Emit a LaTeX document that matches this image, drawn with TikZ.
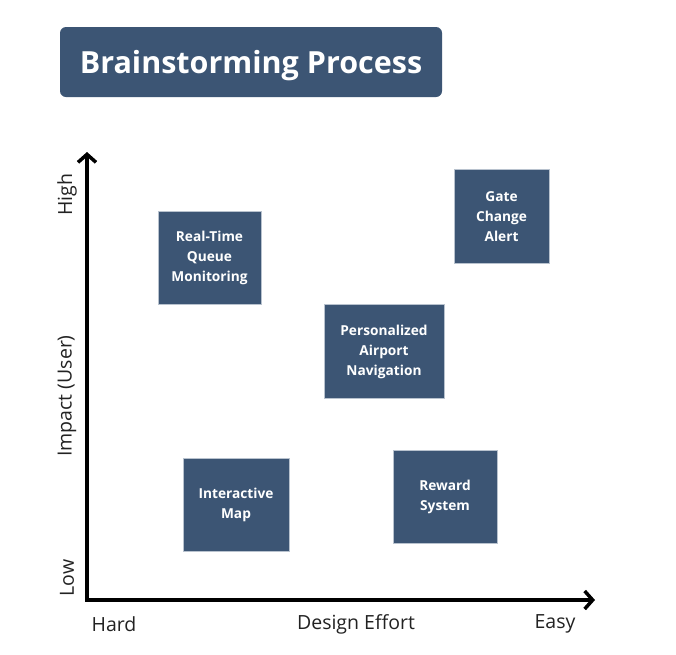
\documentclass[tikz,border=0pt]{standalone}
\usepackage{fontspec}
\setmainfont{Open Sans}
\usetikzlibrary{arrows.meta}
\definecolor{boxblue}{HTML}{3C5574}
\definecolor{boxborder}{HTML}{B8C2CE}
\definecolor{labelgray}{HTML}{222222}
\begin{document}
\begin{tikzpicture}[x=1pt,y=-1pt,
  idea/.style={fill=boxblue, draw=boxborder, line width=0.8pt, text=white,
    font=\bfseries\fontsize{13.7}{20}\selectfont, align=center, inner sep=0pt},
  axislbl/.style={font=\fontsize{19.5}{20}\selectfont, text=labelgray, inner sep=0pt},
  axisline/.style={line width=3.5pt, draw=black, {Straight Barb[length=8pt,width=18pt,line width=3.5pt]}-{Straight Barb[length=8pt,width=18pt,line width=3.5pt]}}]
\useasboundingbox (0,0) rectangle (676,654);
\fill[white] (0,0) rectangle (676,654);

% title
\node[fill=boxblue, rounded corners=6pt, minimum width=382pt, minimum height=70pt,
  text=white, font=\bfseries\fontsize{30.5}{34}\selectfont, inner sep=0pt,
  text height=22.6pt, text depth=0pt] (title) at (251,62) {Brainstorming Process};

% axes
\coordinate (ytop) at (87,152);
\coordinate (origin) at (87,600);
\coordinate (xend) at (595,600);
\draw[axisline] (ytop) -- (origin) -- (xend);

% axis labels
\node[axislbl, rotate=90] (high) at (67,195) {High};
\node[axislbl, rotate=90] (impact) at (67,396) {Impact (User)};
\node[axislbl, rotate=90] (low) at (67,578) {Low};
\node[axislbl] (hard) at (114,624) {Hard};
\node[axislbl] (effort) at (356,624) {Design Effort};
\node[axislbl] (easy) at (555,624) {Easy};

% idea boxes
\node[idea, minimum width=103pt, minimum height=93pt] (rtq) at (209.5,258) {Real-Time\\Queue\\Monitoring};
\node[idea, minimum width=120pt, minimum height=94pt] (pan) at (384,351.5) {Personalized\\Airport\\Navigation};
\node[idea, minimum width=95pt, minimum height=94pt] (gca) at (501.5,216.5) {Gate\\Change\\Alert};
\node[idea, minimum width=104pt, minimum height=93pt] (rws) at (445,497) {Reward\\System};
\node[idea, minimum width=106pt, minimum height=93pt] (imap) at (236,505) {Interactive\\Map};
\end{tikzpicture}
\end{document}
